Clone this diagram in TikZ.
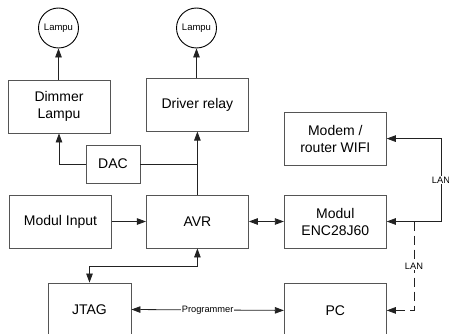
\documentclass[tikz,border=0pt]{standalone}
\usepackage{fontspec}
\setmainfont{Liberation Sans}
\usetikzlibrary{arrows.meta,positioning}
\definecolor{BoxGray}{HTML}{555555}
\definecolor{LineGray}{HTML}{222222}

\begin{document}
\begin{tikzpicture}[
  x=1pt, y=-1pt,
  node distance=34pt and 34pt,
  box/.style={draw=BoxGray, line width=0.9pt, align=center, minimum width=102pt, minimum height=53pt, font=\fontsize{14}{17}\selectfont, inner sep=2pt},
  lamp/.style={circle, draw=black, line width=0.9pt, minimum size=40pt, inner sep=0pt, font=\fontsize{9.5}{11}\selectfont},
  tag/.style={fill=white, inner sep=1pt, font=\fontsize{9.3}{11}\selectfont},
  link/.style={line width=0.8pt, draw=LineGray},
  arrow/.style={link, -{Triangle[length=9pt, width=6.5pt]}},
  twoway/.style={link, {Triangle[length=9pt, width=6.5pt]}-{Triangle[length=9pt, width=6.5pt]}}
]
\useasboundingbox (0,0) rectangle (449,334);

\node[box] (input) at (60.5,221.5) {Modul Input};
\node[box, right=of input] (avr) {AVR};
\node[box, right=35pt of avr] (enc) {Modul\\ENC28J60};
\node[box, above=29pt of enc] (modem) {Modem /\\router WIFI};
\node[box, above=63pt of avr] (driver) {Driver relay};
\node[box] (dimmer) at (59,106.5) {Dimmer\\Lampu};
\node[box, minimum width=54pt, minimum height=38pt] (dac) at (113,164) {DAC};
\node[lamp] (lamp1) at (58.5,28) {Lampu};
\node[lamp] (lamp2) at (196.5,28) {Lampu};
\node[box, minimum width=83pt] (jtag) at (89.5,309.5) {JTAG};
\node[box, below=35pt of enc] (pc) {PC};

\coordinate (wan) at (441,0);
\coordinate (tap) at (414,0);

\draw[arrow] (dimmer.north -| lamp1) -- (lamp1);
\draw[arrow] (driver.north -| lamp2) -- (lamp2);
\draw[arrow] (avr.north) -- (driver.south);
\draw[arrow] (dac.west) -| (dimmer.south);
\draw[link] (dac.east) -- (dac.east -| avr.north);
\draw[arrow] (input) -- (avr);
\draw[twoway] (avr) -- (enc);
\draw[twoway] (avr.south) -- ++(0,18) -| (jtag.north);
\draw[twoway] (jtag.east) -- node[tag] {Programmer} (pc.west);
\draw[twoway] (modem.east) -- (modem.east -| wan) -- node[tag] {LAN} (enc.east -| wan) -- (enc.east);
\draw[arrow, dash pattern=on 9pt off 5pt] (enc.east -| tap) -- node[tag] {LAN} (pc.east -| tap) -- (pc.east);
\end{tikzpicture}
\end{document}
